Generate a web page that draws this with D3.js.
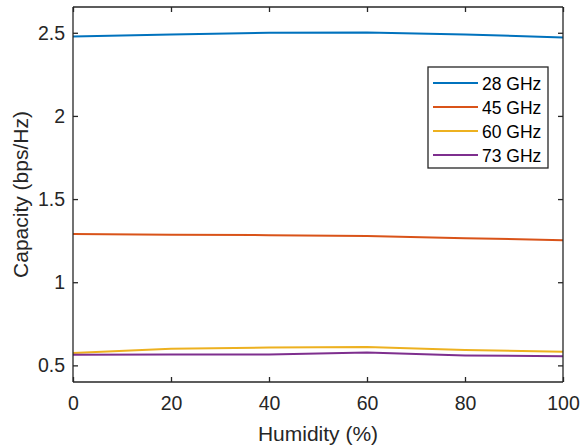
<!DOCTYPE html>
<html>
<head>
<meta charset="utf-8">
<script src="https://cdn.jsdelivr.net/npm/d3@7"></script>
<style>
  body { margin: 0; background: #fff; }
  svg { font-family: "Liberation Sans", Arial, sans-serif; }
</style>
</head>
<body>
<div id="chart"></div>
<script>
// data
const humidity = [0, 20, 40, 60, 80, 100];
const seriesNames = ["28 GHz", "45 GHz", "60 GHz", "73 GHz"];
const cap28 = [2.478, 2.490, 2.500, 2.502, 2.490, 2.472];
const cap45 = [1.290, 1.285, 1.283, 1.278, 1.265, 1.253];
const cap60 = [0.574, 0.600, 0.607, 0.610, 0.592, 0.582];
const cap73 = [0.564, 0.566, 0.566, 0.577, 0.560, 0.555];
const xTicks = [0, 20, 40, 60, 80, 100];
const yTicks = [0.5, 1, 1.5, 2, 2.5];
const colors = ["#0072BD", "#D95319", "#EDB120", "#7E2F8E"];

const width = 584, height = 448;
const margin = {top: 7, right: 21, bottom: 66, left: 73};

const svg = d3.select("#chart").append("svg")
  .attr("width", width).attr("height", height);

const x = d3.scaleLinear().domain([0, 100]).range([margin.left, width - margin.right]);
const y = d3.scaleLinear().domain([0.4, 2.655]).range([height - margin.bottom, margin.top]);

const allSeries = [cap28, cap45, cap60, cap73];

// lines
const line = d3.line().x((d, i) => x(humidity[i])).y(d => y(d));
allSeries.forEach((s, k) => {
  svg.append("path")
    .attr("d", line(s))
    .attr("fill", "none")
    .attr("stroke", colors[k])
    .attr("stroke-width", 2);
});

// axes, matlab style: ticks inside, box on
const axColor = "#262626";
const tick = 5;
const gx = svg.append("g").attr("transform", `translate(0,${height - margin.bottom})`)
  .call(d3.axisBottom(x).tickValues(xTicks).tickSize(-tick).tickPadding(14));
const gxTop = svg.append("g").attr("transform", `translate(0,${margin.top})`)
  .call(d3.axisTop(x).tickValues(xTicks).tickSize(-tick).tickFormat(""));
const gy = svg.append("g").attr("transform", `translate(${margin.left},0)`)
  .call(d3.axisLeft(y).tickValues(yTicks).tickSize(-tick).tickPadding(8).tickFormat(d3.format("")));
const gyRight = svg.append("g").attr("transform", `translate(${width - margin.right},0)`)
  .call(d3.axisRight(y).tickValues(yTicks).tickSize(-tick).tickFormat(""));

[gx, gxTop, gy, gyRight].forEach(g => {
  g.select(".domain").attr("stroke", axColor).attr("stroke-width", 1.3);
  g.selectAll(".tick line").attr("stroke", axColor).attr("stroke-width", 1.3);
  g.selectAll("text").attr("fill", axColor).style("font-size", "19.5px");
});
gx.selectAll(".domain").attr("d", `M${margin.left},0H${width - margin.right}`);
gxTop.selectAll(".domain").attr("d", `M${margin.left},0H${width - margin.right}`);
gy.selectAll(".domain").attr("d", `M0,${margin.top}V${height - margin.bottom}`);
gyRight.selectAll(".domain").attr("d", `M0,${margin.top}V${height - margin.bottom}`);

// axis titles
svg.append("text")
  .attr("x", (margin.left + width - margin.right) / 2)
  .attr("y", 441)
  .attr("text-anchor", "middle")
  .attr("fill", axColor)
  .style("font-size", "21px")
  .text("Humidity (%)");

svg.append("text")
  .attr("transform", `translate(28,${(margin.top + height - margin.bottom) / 2}) rotate(-90)`)
  .attr("text-anchor", "middle")
  .attr("fill", axColor)
  .style("font-size", "21px")
  .text("Capacity (bps/Hz)");

// legend
const lg = svg.append("g").attr("transform", "translate(428,67)");
lg.append("rect")
  .attr("width", 120).attr("height", 101)
  .attr("fill", "#fff").attr("stroke", axColor).attr("stroke-width", 1.3);
seriesNames.forEach((name, k) => {
  const yy = 16 + k * 24;
  lg.append("line")
    .attr("x1", 5).attr("x2", 50).attr("y1", yy).attr("y2", yy)
    .attr("stroke", colors[k]).attr("stroke-width", 2);
  lg.append("text")
    .attr("x", 54).attr("y", yy + 6.5)
    .attr("fill", "#000")
    .style("font-size", "17.5px")
    .text(name);
});
</script>
</body>
</html>
